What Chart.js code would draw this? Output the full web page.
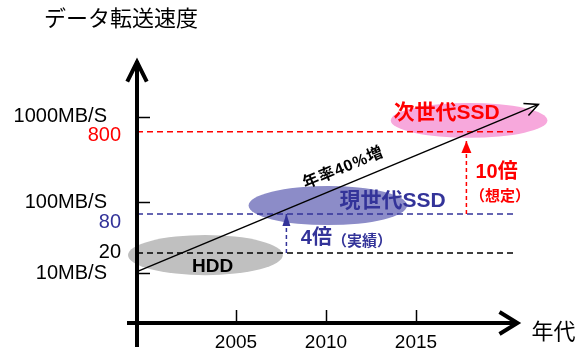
<!DOCTYPE html>
<html>
<head>
<meta charset="utf-8">
<script src="https://cdn.jsdelivr.net/npm/chart.js@4/dist/chart.umd.min.js"></script>
<style>
  html, body { margin: 0; padding: 0; background: #ffffff; }
  #wrap { width: 586px; height: 353px; }
</style>
</head>
<body>
<div id="wrap"><canvas id="c" width="586" height="353"></canvas></div>
<script>
// ---------------- data ----------------
const yTitle = 'データ転送速度';
const xTitle = '年代';
const xTickYears = [2005, 2010, 2015];
const yTickValues = [10, 100, 1000];
const yTickLabels = ['10MB/S', '100MB/S', '1000MB/S'];
const refValues = [20, 80, 800];
const refLabels = ['20', '80', '800'];
const refYearEnd = 2020.4;
const trendYears = [1999.5, 2021.8];
const trendValues = [10.5, 1450];
const trendLabel = '年率40%増';
const groupNames = ['HDD', '現世代SSD', '次世代SSD'];
const groupYearFrom = [1999.0, 2005.7, 2013.6];
const groupYearTo = [2007.6, 2014.5, 2022.3];
const groupValueFrom = [9.4, 54, 670];
const groupValueTo = [38, 161, 1510];
const groupLabelYear = [2003.7, 2013.7, 2016.7];
const groupLabelValue = [12.3, 103, 1125];
const stepYears = [2007.8, 2017.8];
const stepFrom = [20, 80];
const stepTo = [80, 610];
const stepMain = ['4倍', '10倍'];
const stepNote = ['（実績）', '（想定）'];
const stepLabelYear = [2008.6, 2018.3];
const stepLabelValue = [33, 237];
const stepNoteYear = [null, 2018.0];
const stepNoteValue = [null, 123];
const xAxisEndYear = 2020.8;

// ---------------- styles ----------------
const LATIN = '"Liberation Sans", "Noto Sans CJK JP", sans-serif';
const CJK = '"Noto Sans CJK JP", "Liberation Sans", sans-serif';
const groupFill = ['#c0c0c0', '#8c8cc8', '#f7a8dc'];
const groupText = ['#000000', '#333399', '#ff0000'];
const refColors = ['#000000', '#333399', '#ff0000'];
const refLabelDy = [-1, 8, 4];
const stepColors = ['#333399', '#ff0000'];
const stepHead = [[8, 12], [10, 12]];

// ---------------- schematic (distorted log) scale ----------------
class SchematicScale extends Chart.Scale {
  level(v) {
    const a = this.options.anchors;
    const lv = Math.log10(v);
    if (v <= a[0][0]) return a[0][1] + (lv - Math.log10(a[0][0]));
    for (let i = 1; i < a.length; i++) {
      if (v <= a[i][0]) {
        const l0 = Math.log10(a[i - 1][0]), l1 = Math.log10(a[i][0]);
        return a[i - 1][1] + (lv - l0) / (l1 - l0) * (a[i][1] - a[i - 1][1]);
      }
    }
    const last = a[a.length - 1];
    return last[1] + (lv - Math.log10(last[0]));
  }
  determineDataLimits() { this.min = this.options.min; this.max = this.options.max; }
  buildTicks() { return this.options.tickValues.map(v => ({ value: v })); }
  getLabelForValue(v) { return String(v); }
  configure() {
    super.configure();
    this._lo = this.level(this.min);
    this._hi = this.level(this.max);
  }
  getPixelForValue(v) {
    return this.getPixelForDecimal((this.level(v) - this._lo) / (this._hi - this._lo));
  }
  getValueForPixel(p) {
    const d = this.getDecimalForPixel(p);
    let lo = Math.log10(this.min), hi = Math.log10(this.max);
    for (let k = 0; k < 50; k++) {
      const mid = (lo + hi) / 2;
      const dm = (this.level(Math.pow(10, mid)) - this._lo) / (this._hi - this._lo);
      if (dm < d) lo = mid; else hi = mid;
    }
    return Math.pow(10, (lo + hi) / 2);
  }
}
SchematicScale.id = 'schematic';
SchematicScale.defaults = {};
Chart.register(SchematicScale);

// ---------------- drawing helpers ----------------
function chevron(ctx, tx, ty, ang, len, spread, width, color) {
  ctx.save();
  ctx.strokeStyle = color; ctx.lineWidth = width; ctx.lineJoin = 'miter'; ctx.lineCap = 'butt';
  ctx.beginPath();
  ctx.moveTo(tx - len * Math.cos(ang - spread), ty - len * Math.sin(ang - spread));
  ctx.lineTo(tx, ty);
  ctx.lineTo(tx - len * Math.cos(ang + spread), ty - len * Math.sin(ang + spread));
  ctx.stroke();
  ctx.restore();
}

const diagramPlugin = {
  id: 'diagram',
  beforeDatasetsDraw(chart) {
    const { ctx, scales: { x, y } } = chart;
    ctx.save();
    for (let i = 0; i < groupNames.length; i++) {
      const x0 = x.getPixelForValue(groupYearFrom[i]), x1 = x.getPixelForValue(groupYearTo[i]);
      const y0 = y.getPixelForValue(groupValueFrom[i]), y1 = y.getPixelForValue(groupValueTo[i]);
      ctx.fillStyle = groupFill[i];
      ctx.beginPath();
      ctx.ellipse((x0 + x1) / 2, (y0 + y1) / 2, Math.abs(x1 - x0) / 2, Math.abs(y1 - y0) / 2, 0, 0, Math.PI * 2);
      ctx.fill();
    }
    ctx.restore();
  },
  afterDatasetsDraw(chart) {
    const { ctx, chartArea: a, scales: { x, y } } = chart;
    ctx.save();
    // axes
    const ax = a.left, ay = a.bottom;
    const xEnd = x.getPixelForValue(xAxisEndYear);
    ctx.strokeStyle = '#000'; ctx.lineWidth = 4;
    ctx.beginPath(); ctx.moveTo(ax, ay + 24); ctx.lineTo(ax, a.top + 3); ctx.stroke();
    ctx.beginPath(); ctx.moveTo(ax - 10, ay); ctx.lineTo(xEnd - 3, ay); ctx.stroke();
    chevron(ctx, ax, a.top + 4, -Math.PI / 2, 22, 0.46, 4, '#000');
    chevron(ctx, xEnd - 3, ay, 0, 21, 0.55, 4, '#000');
    // tick marks
    ctx.lineWidth = 1.5;
    yTickValues.forEach(v => {
      const py = Math.round(y.getPixelForValue(v)) + 0.5;
      ctx.beginPath(); ctx.moveTo(ax, py); ctx.lineTo(ax + 13, py); ctx.stroke();
    });
    xTickYears.forEach(v => {
      const px = Math.round(x.getPixelForValue(v)) + 0.5;
      ctx.beginPath(); ctx.moveTo(px, ay); ctx.lineTo(px, ay - 13); ctx.stroke();
    });
    // reference labels
    ctx.font = '20px ' + LATIN;
    ctx.textAlign = 'right'; ctx.textBaseline = 'middle';
    refValues.forEach((v, i) => {
      ctx.fillStyle = refColors[i];
      ctx.fillText(refLabels[i], ax - 16, y.getPixelForValue(v) + refLabelDy[i]);
    });
    // trend arrow head + label
    const pts = chart.getDatasetMeta(0).data;
    const p0 = pts[0], p1 = pts[pts.length - 1];
    const ang = Math.atan2(p1.y - p0.y, p1.x - p0.x);
    chevron(ctx, p1.x, p1.y, ang, 15, 0.45, 1.5, '#000');
    const t = 0.53;
    const cx = p0.x + (p1.x - p0.x) * t + Math.sin(ang) * 16;
    const cy = p0.y + (p1.y - p0.y) * t - Math.cos(ang) * 16;
    ctx.save();
    ctx.translate(cx, cy); ctx.rotate(ang);
    ctx.fillStyle = '#000'; ctx.font = 'bold 16px ' + LATIN;
    try { ctx.letterSpacing = '1px'; } catch (e) {}
    ctx.textAlign = 'center'; ctx.textBaseline = 'middle';
    ctx.fillText(trendLabel, 0, 0);
    try { ctx.letterSpacing = '0px'; } catch (e) {}
    ctx.restore();
    // step arrow heads
    stepYears.forEach((yr, i) => {
      const px = x.getPixelForValue(yr), ty = y.getPixelForValue(stepTo[i]);
      const [w, h] = stepHead[i];
      ctx.fillStyle = stepColors[i];
      ctx.beginPath();
      ctx.moveTo(px, ty); ctx.lineTo(px - w / 2, ty + h); ctx.lineTo(px + w / 2, ty + h);
      ctx.closePath(); ctx.fill();
    });
    // step labels
    ctx.textAlign = 'left'; ctx.textBaseline = 'middle';
    stepYears.forEach((yr, i) => {
      ctx.fillStyle = stepColors[i];
      const lx = x.getPixelForValue(stepLabelYear[i]), ly = y.getPixelForValue(stepLabelValue[i]);
      ctx.font = 'bold 20px ' + LATIN;
      const w = ctx.measureText(stepMain[i]).width;
      ctx.fillText(stepMain[i], lx, ly);
      ctx.font = 'bold 15px ' + CJK;
      if (stepNoteYear[i] === null) {
        ctx.fillText(stepNote[i], lx + w, ly + 1);
      } else {
        ctx.fillText(stepNote[i], x.getPixelForValue(stepNoteYear[i]), y.getPixelForValue(stepNoteValue[i]));
      }
    });
    // group labels
    ctx.textAlign = 'center'; ctx.textBaseline = 'middle';
    groupNames.forEach((n, i) => {
      ctx.fillStyle = groupText[i];
      ctx.font = (i === 0 ? 'bold 19px ' : 'bold 21px ') + LATIN;
      ctx.fillText(n, x.getPixelForValue(groupLabelYear[i]), y.getPixelForValue(groupLabelValue[i]));
    });
    // axis titles
    ctx.fillStyle = '#000';
    ctx.font = '22px ' + CJK;
    ctx.textAlign = 'left'; ctx.textBaseline = 'middle';
    ctx.fillText(yTitle, 44, 18);
    ctx.fillText(xTitle, xEnd + 11, ay + 8);
    ctx.restore();
  }
};

// ---------------- datasets ----------------
const datasets = [];
datasets.push({
  data: trendYears.map((yr, i) => ({ x: yr, y: trendValues[i] })),
  borderColor: '#000000', borderWidth: 1.5, pointRadius: 0, tension: 0, clip: false
});
refValues.forEach((v, i) => {
  datasets.push({
    data: [{ x: trendYears[0], y: v }, { x: refYearEnd, y: v }],
    borderColor: refColors[i], borderWidth: 1.5, borderDash: [6, 4], pointRadius: 0, clip: false
  });
});
stepYears.forEach((yr, i) => {
  datasets.push({
    data: [{ x: yr, y: stepFrom[i] }, { x: yr, y: stepTo[i] }],
    borderColor: stepColors[i], borderWidth: 1.5, borderDash: [4, 3], pointRadius: 0, clip: false
  });
});

new Chart(document.getElementById('c'), {
  type: 'line',
  data: { datasets },
  options: {
    responsive: false,
    animation: false,
    events: [],
    layout: { padding: { top: 58, left: 0, right: 26, bottom: 0 } },
    plugins: { legend: { display: false }, tooltip: { enabled: false }, title: { display: false } },
    scales: {
      x: {
        type: 'linear', min: 1999.5, max: 2023,
        grid: { display: false, drawTicks: false }, border: { display: false },
        afterBuildTicks: s => { s.ticks = xTickYears.map(v => ({ value: v })); },
        afterFit: s => { s.height = 30; s.paddingLeft = 0; s.paddingRight = 0; },
        ticks: { color: '#000', font: { family: LATIN, size: 19 }, padding: 8, maxRotation: 0, autoSkip: false,
                 callback: v => String(v) }
      },
      y: {
        type: 'schematic', min: 2.29, max: 5700,
        anchors: [[10, 1.0], [20, 1.256], [80, 1.756], [100, 1.91], [800, 2.81], [1000, 3.0]],
        tickValues: yTickValues,
        grid: { display: false, drawTicks: false }, border: { display: false },
        afterFit: s => { s.width = 137; s.paddingTop = 0; s.paddingBottom = 0; },
        ticks: { color: '#000', font: { family: LATIN, size: 20 }, padding: 30, autoSkip: false,
                 callback: v => yTickLabels[yTickValues.indexOf(v)] }
      }
    }
  },
  plugins: [diagramPlugin]
});
</script>
</body>
</html>
